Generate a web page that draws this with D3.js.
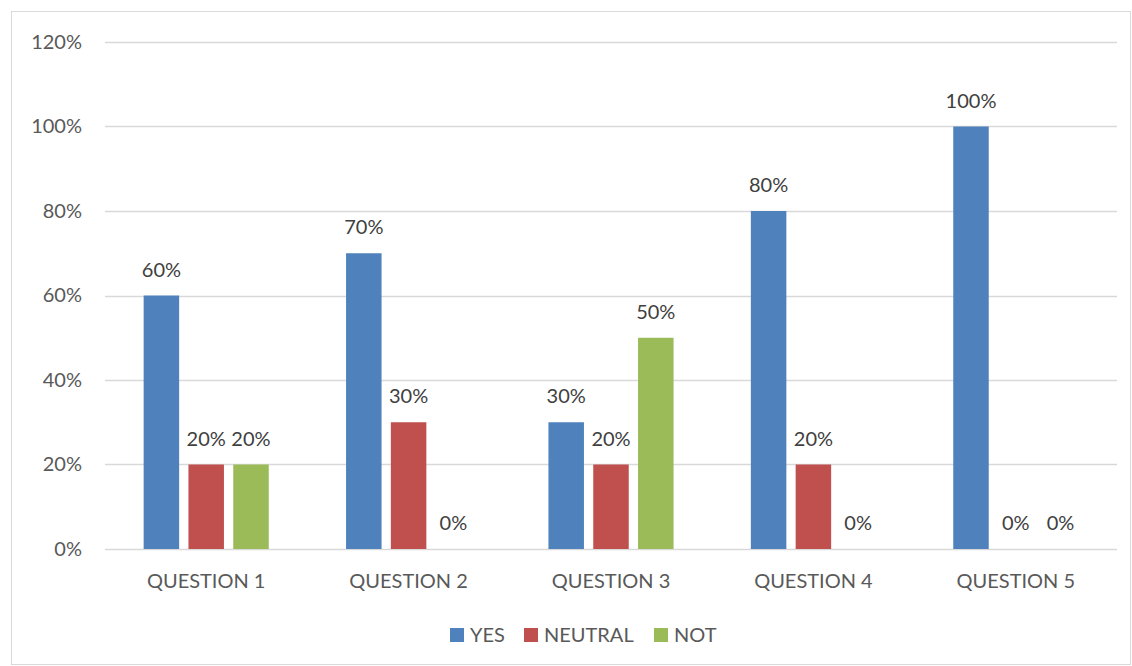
<!DOCTYPE html>
<html>
<head>
<meta charset="utf-8">
<script src="https://cdn.jsdelivr.net/npm/d3@7"></script>
<style>
  html, body { margin: 0; padding: 0; background: #fff; }
  svg { display: block; font-family: Lato, "Open Sans", "Liberation Sans", sans-serif; }
</style>
</head>
<body>
<svg id="chart" width="1132" height="666"></svg>
<script>
const categories = ["QUESTION 1", "QUESTION 2", "QUESTION 3", "QUESTION 4", "QUESTION 5"];
const seriesNames = ["YES", "NEUTRAL", "NOT"];
const yesValues = [0.6, 0.7, 0.3, 0.8, 1.0];
const neutralValues = [0.2, 0.3, 0.2, 0.2, 0];
const notValues = [0.2, 0, 0.5, 0, 0];
const yTicks = [0, 0.2, 0.4, 0.6, 0.8, 1.0, 1.2];
const colors = ["#4f81bd", "#c0504d", "#9bbb59"];

const seriesValues = [yesValues, neutralValues, notValues];

const svg = d3.select("#chart");

// outer frame
svg.append("rect")
  .attr("x", 11.5).attr("y", 11.5)
  .attr("width", 1119).attr("height", 653)
  .attr("fill", "#fff").attr("stroke", "#d9d9d9").attr("stroke-width", 1);

const plot = { left: 105, right: 1117, top: 42, bottom: 549 };

const y = d3.scaleLinear().domain([0, 1.2]).range([plot.bottom, plot.top]);
const x = d3.scaleBand().domain(categories).range([plot.left, plot.right]).paddingInner(0).paddingOuter(0);

const barW = 35.5, barStep = 44.8;
const xs = d3.scaleBand().domain(seriesNames)
  .range([-(barStep * 3 - (barStep - barW)) / 2, (barStep * 3 - (barStep - barW)) / 2])
  .paddingInner((barStep - barW) / barStep).paddingOuter(0);

const pct = d3.format(".0%");
const labelFont = 20;

// gridlines
svg.append("g")
  .selectAll("line")
  .data(yTicks)
  .join("line")
  .attr("x1", plot.left).attr("x2", plot.right)
  .attr("y1", d => Math.round(y(d)) + 0.5).attr("y2", d => Math.round(y(d)) + 0.5)
  .attr("stroke", "#d9d9d9").attr("stroke-width", 1.3);

// y axis labels
const yAxis = d3.axisLeft(y).tickValues(yTicks).tickFormat(pct).tickSize(0).tickPadding(0);
const yg = svg.append("g").attr("transform", `translate(${plot.left - 23},0)`).call(yAxis);
yg.select(".domain").remove();
yg.selectAll("text")
  .attr("font-size", labelFont).attr("fill", "#595959")
  .attr("font-family", "Lato, 'Open Sans', sans-serif");

// bars
const groups = svg.append("g")
  .selectAll("g")
  .data(categories)
  .join("g")
  .attr("transform", d => `translate(${x(d) + x.bandwidth() / 2},0)`);

seriesNames.forEach((s, si) => {
  groups.append("rect")
    .attr("x", xs(s))
    .attr("width", xs.bandwidth())
    .attr("y", (d, i) => y(seriesValues[si][i]))
    .attr("height", (d, i) => y(0) - y(seriesValues[si][i]))
    .attr("fill", colors[si]);

  groups.append("text")
    .attr("x", xs(s) + xs.bandwidth() / 2)
    .attr("y", (d, i) => y(seriesValues[si][i]) - 19)
    .attr("text-anchor", "middle")
    .attr("font-size", labelFont)
    .attr("fill", "#404040")
    .text((d, i) => pct(seriesValues[si][i]));
});

// category axis
const xAxis = d3.axisBottom(x).tickSize(0).tickPadding(0);
const xg = svg.append("g").attr("transform", `translate(0,${plot.bottom + 39})`).call(xAxis);
xg.select(".domain").remove();
xg.selectAll("text")
  .attr("dy", 0)
  .attr("font-size", labelFont).attr("fill", "#595959")
  .attr("font-family", "Lato, 'Open Sans', sans-serif");

// legend
const legendX = [450, 524, 654];
const legend = svg.append("g")
  .selectAll("g")
  .data(seriesNames)
  .join("g")
  .attr("transform", (d, i) => `translate(${legendX[i]},628)`);
legend.append("rect").attr("width", 14).attr("height", 14).attr("fill", (d, i) => colors[i]);
legend.append("text")
  .attr("x", 20).attr("y", 14)
  .attr("font-size", labelFont).attr("fill", "#595959")
  .text(d => d);
</script>
</body>
</html>
